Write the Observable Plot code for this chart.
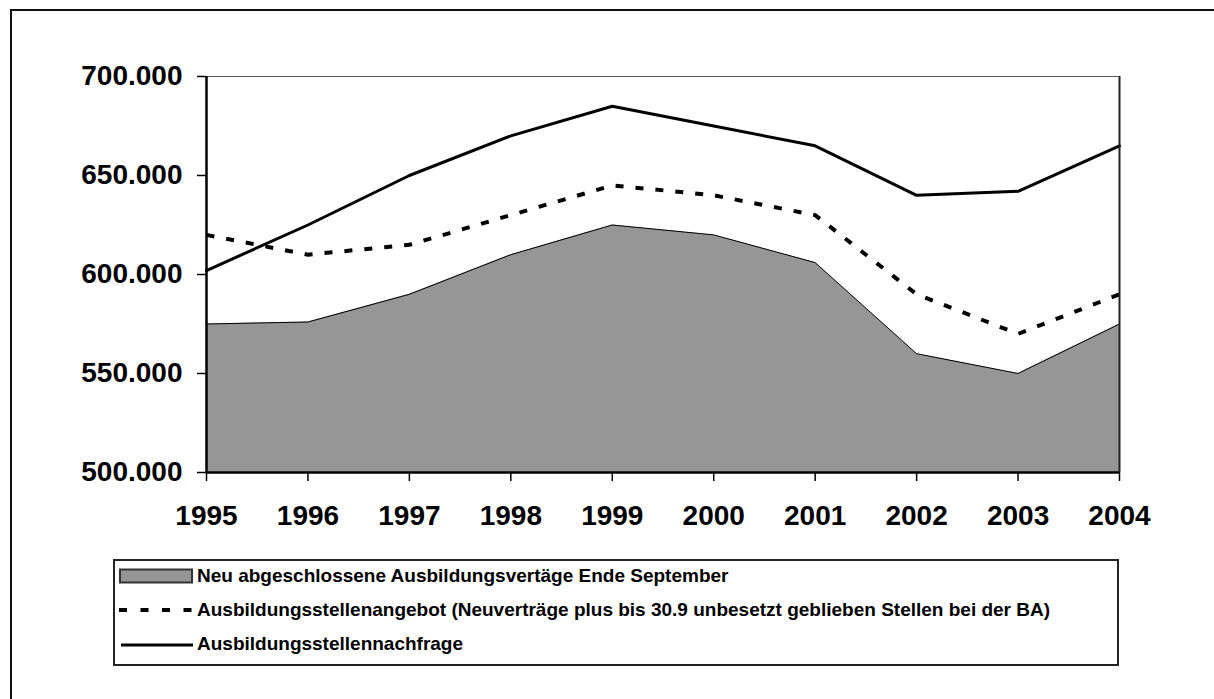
<!DOCTYPE html>
<html>
<head>
<meta charset="utf-8">
<script src="https://cdn.jsdelivr.net/npm/d3@7"></script>
<script src="https://cdn.jsdelivr.net/npm/@observablehq/plot@0.6"></script>
<style>
  html, body { margin: 0; padding: 0; background: #fff; overflow: hidden; }
  #wrap { position: relative; width: 1214px; height: 699px; overflow: hidden; font-family: "Liberation Sans", Arial, sans-serif; }
  #outer { position: absolute; left: 10px; top: 9px; width: 1204px; height: 690px; border-left: 2px solid #111; border-top: 2px solid #111; box-sizing: border-box; }
  #chart { position: absolute; left: 0; top: 0; }
  #legend { position: absolute; left: 113px; top: 559px; width: 1006px; height: 107px; border: 2px solid #222; box-sizing: border-box; background: #fff; }
  .row { position: absolute; left: 0; height: 20px; width: 100%; }
  .row svg { position: absolute; left: 3px; top: 0; }
  .row span { position: absolute; left: 82px; top: 0; font-weight: bold; font-size: 19px; line-height: 20px; color: #000; white-space: nowrap; }
</style>
</head>
<body>
<div id="wrap">
  <div id="outer"></div>
  <div id="chart"></div>
  <div id="legend"></div>
</div>
<script>
const years = [1995, 1996, 1997, 1998, 1999, 2000, 2001, 2002, 2003, 2004];
const neuVertraege = [575000, 576000, 590000, 610000, 625000, 620000, 606000, 560000, 550000, 575000];
const angebot = [620000, 610000, 615000, 630000, 645000, 640000, 630000, 590000, 570000, 590000];
const nachfrage = [602000, 625000, 650000, 670000, 685000, 675000, 665000, 640000, 642000, 665000];
const yTicks = [500000, 550000, 600000, 650000, 700000];
const seriesNames = [
  "Neu abgeschlossene Ausbildungsvertäge Ende September",
  "Ausbildungsstellenangebot (Neuverträge plus bis 30.9 unbesetzt geblieben Stellen bei der BA)",
  "Ausbildungsstellennachfrage"
];

const data = years.map((y, i) => ({year: y, neu: neuVertraege[i], angebot: angebot[i], nachfrage: nachfrage[i]}));
const de = d3.formatLocale({decimal: ",", thousands: ".", grouping: [3], currency: ["", " €"]});
const fmt = de.format(",.0f");

const chart = Plot.plot({
  width: 1214,
  height: 540,
  marginLeft: 206,
  marginRight: 95,
  marginTop: 76,
  marginBottom: 68,
  style: {fontFamily: "'Liberation Sans', Arial, sans-serif", background: "transparent", color: "#000"},
  x: {domain: [1995, 2004], ticks: years, tickFormat: d => String(d), label: null},
  y: {domain: [500000, 700000], ticks: yTicks, tickFormat: fmt, label: null},
  marks: [
    Plot.areaY(data, {x: "year", y1: 500000, y2: "neu", fill: "#969696"}),
    Plot.lineY(data, {x: "year", y: "neu", stroke: "#000", strokeWidth: 1}),
    Plot.lineY(data, {x: "year", y: "angebot", stroke: "#000", strokeWidth: 4, strokeDasharray: "8,12", strokeLinecap: "butt"}),
    Plot.lineY(data, {x: "year", y: "nachfrage", stroke: "#000", strokeWidth: 3}),
    Plot.ruleY([700000], {stroke: "#555", strokeWidth: 1}),
    Plot.ruleX([2004], {stroke: "#222", strokeWidth: 2}),
    Plot.ruleX([1995], {stroke: "#000", strokeWidth: 2.5}),
    Plot.ruleY([500000], {stroke: "#000", strokeWidth: 2.5}),
    Plot.axisY({ticks: yTicks, tickFormat: fmt, tickSize: 9, tickPadding: 15, fontSize: 28, fontWeight: "bold", stroke: "#000", strokeWidth: 1.5, label: null}),
    Plot.axisX({ticks: years, tickFormat: d => String(d), tickSize: 9, tickPadding: 24, fontSize: 28, fontWeight: "bold", stroke: "#000", strokeWidth: 1.5, label: null})
  ]
});
document.getElementById("chart").appendChild(chart);

// Legend (HTML, below the SVG)
const legend = document.getElementById("legend");
const rowTops = [5, 39, 73];
const swatches = [
  `<svg width="76" height="20"><rect x="2" y="3.5" width="72" height="13" fill="#969696" stroke="#333" stroke-width="2"/></svg>`,
  `<svg width="76" height="20"><line x1="1" y1="10" x2="75" y2="10" stroke="#000" stroke-width="4" stroke-dasharray="8,13.5"/></svg>`,
  `<svg width="76" height="20"><line x1="3" y1="11" x2="75" y2="11" stroke="#000" stroke-width="3"/></svg>`
];
seriesNames.forEach((name, i) => {
  const row = document.createElement("div");
  row.className = "row";
  row.style.top = rowTops[i] + "px";
  row.innerHTML = swatches[i];
  const s = document.createElement("span");
  s.textContent = name;
  row.appendChild(s);
  legend.appendChild(row);
});
</script>
</body>
</html>
